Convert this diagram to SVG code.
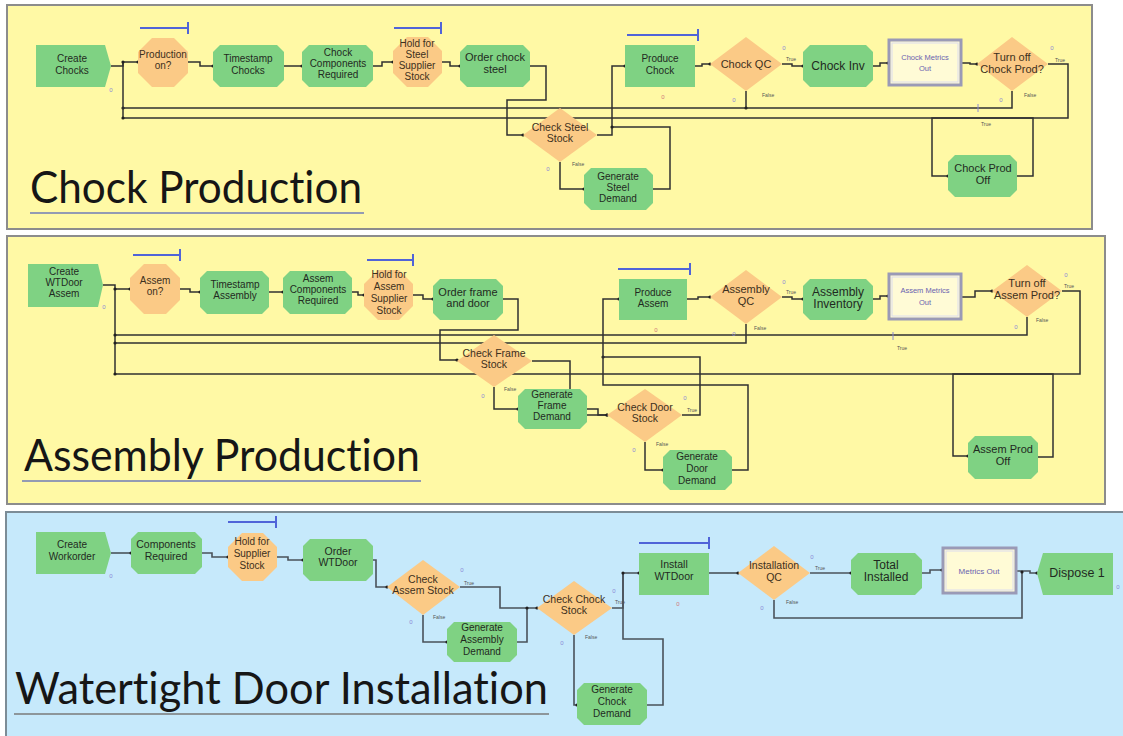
<svg xmlns="http://www.w3.org/2000/svg" width="1123" height="736" viewBox="0 0 1123 736">
  <style>
    .panelY { fill: #fff9a5; stroke: #8c8c8c; stroke-width: 2; }
    .panelB { fill: #c6e9fb; stroke: #7c8c96; stroke-width: 2; }
    .green { fill: #7fd283; }
    .orange { fill: #fbca86; }
    .record { fill: #fffbd6; stroke: #9a9ab6; stroke-width: 3; }
    .recordIn { fill: none; stroke: #dcdcee; stroke-width: 1; }
    .lbl { font-family: "Liberation Sans", Arial, sans-serif; font-size: 10px; fill: #1f2a1f; text-anchor: middle; }
    .lblO { font-family: "Liberation Sans", Arial, sans-serif; font-size: 10px; fill: #3d3020; text-anchor: middle; }
    .big { font-size: 12px; }
    .rec { font-family: "Liberation Sans", Arial, sans-serif; font-size: 7.5px; fill: #6a62b0; text-anchor: middle; }
    .title { font-family: Lato, "Liberation Sans", sans-serif; font-size: 44px; fill: #161616; font-variant-ligatures: none; font-feature-settings: "liga" 0, "dlig" 0; }
    .uline { stroke: #6f7bb8; stroke-width: 1.5; }
    .ulineG { stroke: #7a7a7a; stroke-width: 1.5; }
    .bar { stroke: #5064d8; stroke-width: 2; fill: none; }
    .conn { fill: none; stroke: #303030; stroke-width: 1.5; stroke-linejoin: miter; }
    .conn3 { fill: none; stroke: #4a525a; stroke-width: 1.6; }
    .tf { font-family: "Liberation Sans", Arial, sans-serif; font-size: 5px; fill: #555; }
    .cnt { font-family: "Liberation Sans", Arial, sans-serif; font-size: 6px; fill: #8a8ad6; text-anchor: middle; }
    .cntR { font-family: "Liberation Sans", Arial, sans-serif; font-size: 6px; fill: #d07a7a; text-anchor: middle; }
  </style>
  <defs>
    <marker id="dot" viewBox="0 0 4 4" refX="2" refY="2" markerWidth="4" markerHeight="4" markerUnits="userSpaceOnUse">
      <circle cx="2" cy="2" r="1.6" fill="#202020"/>
    </marker>
  </defs>

  <rect width="1123" height="736" fill="#ffffff"/>

  <!-- panels -->
  <g id="panel-chock">
    <rect class="panelY" x="7" y="5" width="1085" height="224"/>
    <text class="title" x="30" y="203" textLength="332" lengthAdjust="spacingAndGlyphs">Chock Production</text>
    <line class="uline" x1="30" y1="213" x2="364" y2="213"/>
  </g>
  <g id="panel-assembly">
    <rect class="panelY" x="7" y="236" width="1098" height="268"/>
    <text class="title" x="24" y="471" textLength="396" lengthAdjust="spacingAndGlyphs">Assembly Production</text>
    <line class="uline" x1="22" y1="481" x2="421" y2="481"/>
  </g>
  <g id="panel-install">
    <rect class="panelB" x="6" y="512" width="1120" height="230"/>
    <text class="title" x="15" y="704" textLength="533" lengthAdjust="spacingAndGlyphs">Watertight Door Installation</text>
    <line class="ulineG" x1="14" y1="714" x2="549" y2="714"/>
  </g>

  <!-- connectors -->
  <g id="connectors" marker-end="url(#dot)">
    <!-- chock production -->
    <path class="conn" d="M111,66 H123 V62 H138"/>
    <path class="conn" d="M188,62 H200 V66 H213"/>
    <path class="conn" d="M284,66 H302"/>
    <path class="conn" d="M373,66 H382 V62 H393"/>
    <path class="conn" d="M442,62 H450 V66 H460"/>
    <path class="conn" d="M530,66 H546 V100 H507 V135 H523"/>
    <path class="conn" d="M597,135 H612 V66 H625"/>
    <path class="conn" d="M560,162 V189 H584"/>
    <path class="conn" d="M653,189 H670 V127 H612"/>
    <path class="conn" d="M695,66 H702 V64 H710"/>
    <path class="conn" d="M782,64 H792 V66 H803"/>
    <path class="conn" d="M873,66 H880 V63 H888"/>
    <path class="conn" d="M962,63 H970 V64 H977"/>
    <path class="conn" d="M746,91 V108 H123"/>
    <path class="conn" d="M1012,91 V108 H746"/>
    <path class="conn" d="M123,118 V62"/>
    <path class="conn" d="M1048,64 H1068 V118 H932 V176 H948"/>
    <path class="conn" d="M1017,176 H1033 V118 H123"/>

    <!-- assembly production -->
    <path class="conn" d="M103,285 H115 V289 H130"/>
    <path class="conn" d="M115,374 V289"/>
    <path class="conn" d="M180,289 H190 V292 H200"/>
    <path class="conn" d="M269,292 H283"/>
    <path class="conn" d="M352,292 H358 V295 H364"/>
    <path class="conn" d="M413,295 H423 V299 H433"/>
    <path class="conn" d="M503,299 H518 V330 H440 V360 H457"/>
    <path class="conn" d="M494,387 V409 H518"/>
    <path class="conn" d="M532,361 H570 V415 H607"/>
    <path class="conn" d="M587,409 H598 V415 H607"/>
    <path class="conn" d="M682,415 H700 V357 H603"/>
    <path class="conn" d="M645,442 V470 H663"/>
    <path class="conn" d="M732,470 H748 V385 H603 V299 H619"/>
    <path class="conn" d="M687,299 H698 V297 H710"/>
    <path class="conn" d="M782,297 H792 V299 H803"/>
    <path class="conn" d="M873,299 H880 V296 H888"/>
    <path class="conn" d="M962,297 H975 V291 H992"/>
    <path class="conn" d="M746,324 V343 H115"/>
    <path class="conn" d="M1027,317 V335 H115"/>
    <path class="conn" d="M1062,291 H1080 V374 H953 V456 H968"/>
    <path class="conn" d="M1038,457 H1053 V374 H115"/>

    <!-- watertight door installation -->
    <path class="conn3" d="M111,553 H131"/>
    <path class="conn3" d="M202,553 H212 V557 H228"/>
    <path class="conn3" d="M277,557 H288 V560 H303"/>
    <path class="conn3" d="M373,560 H376 V587 H387"/>
    <path class="conn3" d="M460,587 H500 V608 H537"/>
    <path class="conn3" d="M423,615 V642 H447"/>
    <path class="conn3" d="M517,642 H527 V608"/>
    <path class="conn3" d="M612,608 H623 V573 H639"/>
    <path class="conn3" d="M574,635 V705 H577"/>
    <path class="conn3" d="M647,705 H663 V639 H623 V573"/>
    <path class="conn3" d="M709,573 H738"/>
    <path class="conn3" d="M810,573 H851"/>
    <path class="conn3" d="M922,573 H930 V570 H942"/>
    <path class="conn3" d="M1017,571 H1030 V573 H1037"/>
    <path class="conn3" d="M774,600 V618 H1022 V572"/>

    <!-- branch labels -->
    <g marker-end="none">
      <text class="tf" x="786" y="61">True</text>
      <text class="tf" x="762" y="97">False</text>
      <text class="tf" x="1055" y="62">True</text>
      <text class="tf" x="1024" y="97">False</text>
      <text class="tf" x="981" y="126">True</text>
      <text class="tf" x="572" y="166">False</text>
      <text class="tf" x="786" y="294">True</text>
      <text class="tf" x="754" y="330">False</text>
      <text class="tf" x="1064" y="288">True</text>
      <text class="tf" x="1036" y="322">False</text>
      <text class="tf" x="897" y="350">True</text>
      <text class="tf" x="504" y="391">False</text>
      <text class="tf" x="687" y="412">True</text>
      <text class="tf" x="656" y="446">False</text>
      <text class="tf" x="464" y="585">True</text>
      <text class="tf" x="433" y="619">False</text>
      <text class="tf" x="615" y="604">True</text>
      <text class="tf" x="585" y="639">False</text>
      <text class="tf" x="815" y="570">True</text>
      <text class="tf" x="786" y="604">False</text>
    </g>
  </g>

  <!-- ===== Chock Production nodes ===== -->
  <g id="create-chocks">
    <polygon class="green" points="36,45 105,45 111,66 105,87 36,87"/>
    <text class="lbl" x="72" y="62">Create</text>
    <text class="lbl" x="72" y="74">Chocks</text>
    <text class="cnt" x="111" y="92">0</text>
  </g>
  <g id="production-on">
    <polyline class="bar" points="140,28 188,28"/>
    <line class="bar" x1="188" y1="22" x2="188" y2="34"/>
    <polygon class="orange" points="152,38 174,38 188,52 188,73 174,87 152,87 138,73 138,52"/>
    <text class="lblO" x="163" y="58">Production</text>
    <text class="lblO" x="163" y="69">on?</text>
  </g>
  <g id="timestamp-chocks">
    <polygon class="green" points="220,45 277,45 284,52 284,80 277,87 220,87 213,80 213,52"/>
    <text class="lbl" x="248" y="62">Timestamp</text>
    <text class="lbl" x="248" y="74">Chocks</text>
  </g>
  <g id="chock-components">
    <polygon class="green" points="309,45 366,45 373,52 373,80 366,87 309,87 302,80 302,52"/>
    <text class="lbl" x="338" y="56">Chock</text>
    <text class="lbl" x="338" y="67">Components</text>
    <text class="lbl" x="338" y="78">Required</text>
  </g>
  <g id="hold-steel">
    <polyline class="bar" points="394,28 441,28"/>
    <line class="bar" x1="441" y1="22" x2="441" y2="34"/>
    <polygon class="orange" points="407,37 428,37 442,51 442,73 428,87 407,87 393,73 393,51"/>
    <text class="lblO" x="417" y="47">Hold for</text>
    <text class="lblO" x="417" y="58">Steel</text>
    <text class="lblO" x="417" y="69">Supplier</text>
    <text class="lblO" x="417" y="80">Stock</text>
  </g>
  <g id="order-chock-steel">
    <polygon class="green" points="467,45 523,45 530,52 530,80 523,87 467,87 460,80 460,52"/>
    <text class="lbl" x="495" y="61" style="font-size:11px">Order chock</text>
    <text class="lbl" x="495" y="73" style="font-size:11px">steel</text>
  </g>
  <g id="produce-chock">
    <polyline class="bar" points="627,35 698,35"/>
    <line class="bar" x1="698" y1="29" x2="698" y2="41"/>
    <rect class="green" x="625" y="45" width="70" height="42"/>
    <text class="lbl" x="660" y="62">Produce</text>
    <text class="lbl" x="660" y="74">Chock</text>
    <text class="cntR" x="663" y="99">0</text>
  </g>
  <g id="chock-qc">
    <polygon class="orange" points="710,64 746,37 782,64 746,91"/>
    <text class="lblO" x="746" y="68" style="font-size:11px">Chock QC</text>
    <text class="cnt" x="784" y="50">0</text>
    <text class="cnt" x="734" y="102">0</text>
  </g>
  <g id="chock-inv">
    <polygon class="green" points="810,45 866,45 873,52 873,80 866,87 810,87 803,80 803,52"/>
    <text class="lbl big" x="838" y="70">Chock Inv</text>
  </g>
  <g id="chock-metrics-out">
    <rect class="record" x="889" y="40" width="72" height="45"/>
    <rect class="recordIn" x="892" y="43" width="66" height="39"/>
    <text class="rec" x="925" y="60">Chock Metrics</text>
    <text class="rec" x="925" y="71">Out</text>
  </g>
  <g id="turn-off-chock">
    <polygon class="orange" points="977,64 1012,37 1048,64 1012,91"/>
    <text class="lblO" x="1012" y="61" style="font-size:11px">Turn off</text>
    <text class="lblO" x="1012" y="73" style="font-size:11px">Chock Prod?</text>
    <text class="cnt" x="1052" y="50">0</text>
    <text class="cnt" x="1001" y="102">0</text>
    <line x1="978" y1="104" x2="978" y2="112" stroke="#8a8ad6" stroke-width="1"/>
  </g>
  <g id="check-steel-stock">
    <polygon class="orange" points="523,135 560,108 597,135 560,162"/>
    <text class="lblO" x="560" y="131" style="font-size:10.5px">Check Steel</text>
    <text class="lblO" x="560" y="142" style="font-size:10.5px">Stock</text>
    <text class="cnt" x="548" y="171">0</text>
  </g>
  <g id="generate-steel-demand">
    <polygon class="green" points="591,168 646,168 653,175 653,203 646,210 591,210 584,203 584,175"/>
    <text class="lbl" x="618" y="180">Generate</text>
    <text class="lbl" x="618" y="191">Steel</text>
    <text class="lbl" x="618" y="202">Demand</text>
  </g>
  <g id="chock-prod-off">
    <polygon class="green" points="955,155 1010,155 1017,162 1017,190 1010,197 955,197 948,190 948,162"/>
    <text class="lbl" x="983" y="172" style="font-size:11px">Chock Prod</text>
    <text class="lbl" x="983" y="184" style="font-size:11px">Off</text>
  </g>

  <!-- ===== Assembly Production nodes ===== -->
  <g id="create-wtdoor-assem">
    <polygon class="green" points="28,264 98,264 103,285 98,307 28,307"/>
    <text class="lbl" x="64" y="275">Create</text>
    <text class="lbl" x="64" y="286">WTDoor</text>
    <text class="lbl" x="64" y="297">Assem</text>
    <text class="cnt" x="104" y="309">0</text>
  </g>
  <g id="assem-on">
    <polyline class="bar" points="133,255 180,255"/>
    <line class="bar" x1="180" y1="249" x2="180" y2="261"/>
    <polygon class="orange" points="144,264 166,264 180,278 180,300 166,314 144,314 130,300 130,278"/>
    <text class="lblO" x="155" y="284">Assem</text>
    <text class="lblO" x="155" y="295">on?</text>
  </g>
  <g id="timestamp-assembly">
    <polygon class="green" points="207,271 262,271 269,278 269,307 262,314 207,314 200,307 200,278"/>
    <text class="lbl" x="235" y="288">Timestamp</text>
    <text class="lbl" x="235" y="299">Assembly</text>
  </g>
  <g id="assem-components">
    <polygon class="green" points="290,271 345,271 352,278 352,307 345,314 290,314 283,307 283,278"/>
    <text class="lbl" x="318" y="282">Assem</text>
    <text class="lbl" x="318" y="293">Components</text>
    <text class="lbl" x="318" y="304">Required</text>
  </g>
  <g id="hold-assem">
    <polyline class="bar" points="367,260 413,260"/>
    <line class="bar" x1="413" y1="254" x2="413" y2="266"/>
    <polygon class="orange" points="378,270 399,270 413,284 413,306 399,320 378,320 364,306 364,284"/>
    <text class="lblO" x="389" y="278">Hold for</text>
    <text class="lblO" x="389" y="290">Assem</text>
    <text class="lblO" x="389" y="302">Supplier</text>
    <text class="lblO" x="389" y="314">Stock</text>
  </g>
  <g id="order-frame-door">
    <polygon class="green" points="440,279 496,279 503,286 503,313 496,320 440,320 433,313 433,286"/>
    <text class="lbl" x="468" y="296" style="font-size:11px">Order frame</text>
    <text class="lbl" x="468" y="307" style="font-size:11px">and door</text>
  </g>
  <g id="produce-assem">
    <polyline class="bar" points="618,269 690,269"/>
    <line class="bar" x1="690" y1="263" x2="690" y2="275"/>
    <rect class="green" x="619" y="279" width="68" height="41"/>
    <text class="lbl" x="653" y="296">Produce</text>
    <text class="lbl" x="653" y="307">Assem</text>
    <text class="cntR" x="656" y="332">0</text>
  </g>
  <g id="assembly-qc">
    <polygon class="orange" points="710,297 746,270 782,297 746,324"/>
    <text class="lblO" x="746" y="293" style="font-size:11px">Assembly</text>
    <text class="lblO" x="746" y="305" style="font-size:11px">QC</text>
    <text class="cnt" x="784" y="284">0</text>
    <text class="cnt" x="734" y="336">0</text>
  </g>
  <g id="assembly-inventory">
    <polygon class="green" points="810,279 866,279 873,286 873,313 866,320 810,320 803,313 803,286"/>
    <text class="lbl big" x="838" y="296">Assembly</text>
    <text class="lbl big" x="838" y="308">Inventory</text>
  </g>
  <g id="assem-metrics-out">
    <rect class="record" x="889" y="274" width="72" height="45"/>
    <rect class="recordIn" x="892" y="277" width="66" height="39"/>
    <text class="rec" x="925" y="293">Assem Metrics</text>
    <text class="rec" x="925" y="305">Out</text>
  </g>
  <g id="turn-off-assem">
    <polygon class="orange" points="992,291 1027,265 1062,291 1027,317"/>
    <text class="lblO" x="1027" y="287" style="font-size:11px">Turn off</text>
    <text class="lblO" x="1027" y="299" style="font-size:11px">Assem Prod?</text>
    <text class="cnt" x="1066" y="277">0</text>
    <text class="cnt" x="1016" y="329">0</text>
    <line x1="893" y1="332" x2="893" y2="340" stroke="#8a8ad6" stroke-width="1"/>
  </g>
  <g id="assem-prod-off">
    <polygon class="green" points="975,436 1031,436 1038,443 1038,472 1031,479 975,479 968,472 968,443"/>
    <text class="lbl" x="1003" y="453" style="font-size:11px">Assem Prod</text>
    <text class="lbl" x="1003" y="465" style="font-size:11px">Off</text>
  </g>
  <g id="check-frame-stock">
    <polygon class="orange" points="457,361 494,335 532,361 494,387"/>
    <text class="lblO" x="494" y="357" style="font-size:10.5px">Check Frame</text>
    <text class="lblO" x="494" y="368" style="font-size:10.5px">Stock</text>
    <text class="cnt" x="483" y="398">0</text>
  </g>
  <g id="generate-frame-demand">
    <polygon class="green" points="525,389 580,389 587,396 587,422 580,429 525,429 518,422 518,396"/>
    <text class="lbl" x="552" y="398">Generate</text>
    <text class="lbl" x="552" y="409">Frame</text>
    <text class="lbl" x="552" y="420">Demand</text>
  </g>
  <g id="check-door-stock">
    <polygon class="orange" points="607,415 645,389 682,415 645,442"/>
    <text class="lblO" x="645" y="411" style="font-size:10.5px">Check Door</text>
    <text class="lblO" x="645" y="422" style="font-size:10.5px">Stock</text>
    <text class="cnt" x="685" y="400">0</text>
    <text class="cnt" x="634" y="452">0</text>
  </g>
  <g id="generate-door-demand">
    <polygon class="green" points="670,450 725,450 732,457 732,483 725,490 670,490 663,483 663,457"/>
    <text class="lbl" x="697" y="460">Generate</text>
    <text class="lbl" x="697" y="472">Door</text>
    <text class="lbl" x="697" y="484">Demand</text>
  </g>

  <!-- ===== Watertight Door Installation nodes ===== -->
  <g id="create-workorder">
    <polygon class="green" points="36,532 105,532 111,553 105,574 36,574"/>
    <text class="lbl" x="72" y="548">Create</text>
    <text class="lbl" x="72" y="560">Workorder</text>
    <text class="cnt" x="111" y="578">0</text>
  </g>
  <g id="components-required">
    <polygon class="green" points="138,532 195,532 202,539 202,567 195,574 138,574 131,567 131,539"/>
    <text class="lbl" x="166" y="548" style="font-size:10.5px">Components</text>
    <text class="lbl" x="166" y="560" style="font-size:10.5px">Required</text>
  </g>
  <g id="hold-supplier">
    <polyline class="bar" points="228,522 276,522"/>
    <line class="bar" x1="276" y1="516" x2="276" y2="528"/>
    <polygon class="orange" points="242,533 263,533 277,547 277,567 263,581 242,581 228,567 228,547"/>
    <text class="lblO" x="252" y="545">Hold for</text>
    <text class="lblO" x="252" y="557">Supplier</text>
    <text class="lblO" x="252" y="569">Stock</text>
  </g>
  <g id="order-wtdoor">
    <polygon class="green" points="310,539 366,539 373,546 373,574 366,581 310,581 303,574 303,546"/>
    <text class="lbl" x="338" y="555" style="font-size:10.5px">Order</text>
    <text class="lbl" x="338" y="566" style="font-size:10.5px">WTDoor</text>
  </g>
  <g id="check-assem-stock">
    <polygon class="orange" points="387,587 423,560 460,587 423,615"/>
    <text class="lblO" x="423" y="583" style="font-size:10.5px">Check</text>
    <text class="lblO" x="423" y="594" style="font-size:10.5px">Assem Stock</text>
    <text class="cnt" x="462" y="572">0</text>
    <text class="cnt" x="411" y="624">0</text>
  </g>
  <g id="generate-assembly-demand">
    <polygon class="green" points="454,622 510,622 517,629 517,655 510,662 454,662 447,655 447,629"/>
    <text class="lbl" x="482" y="631">Generate</text>
    <text class="lbl" x="482" y="643">Assembly</text>
    <text class="lbl" x="482" y="655">Demand</text>
  </g>
  <g id="check-chock-stock">
    <polygon class="orange" points="537,608 574,581 612,608 574,635"/>
    <text class="lblO" x="574" y="603" style="font-size:10.5px">Check Chock</text>
    <text class="lblO" x="574" y="614" style="font-size:10.5px">Stock</text>
    <text class="cnt" x="614" y="593">0</text>
    <text class="cnt" x="562" y="645">0</text>
  </g>
  <g id="generate-chock-demand">
    <polygon class="green" points="584,683 640,683 647,690 647,718 640,725 584,725 577,718 577,690"/>
    <text class="lbl" x="612" y="693">Generate</text>
    <text class="lbl" x="612" y="705">Chock</text>
    <text class="lbl" x="612" y="717">Demand</text>
  </g>
  <g id="install-wtdoor">
    <polyline class="bar" points="639,543 709,543"/>
    <line class="bar" x1="709" y1="537" x2="709" y2="549"/>
    <rect class="green" x="639" y="553" width="70" height="42"/>
    <text class="lbl" x="674" y="568" style="font-size:10.5px">Install</text>
    <text class="lbl" x="674" y="580" style="font-size:10.5px">WTDoor</text>
    <text class="cntR" x="678" y="606">0</text>
  </g>
  <g id="installation-qc">
    <polygon class="orange" points="738,573 774,546 810,573 774,600"/>
    <text class="lblO" x="774" y="569" style="font-size:10.5px">Installation</text>
    <text class="lblO" x="774" y="581" style="font-size:10.5px">QC</text>
    <text class="cnt" x="812" y="559">0</text>
    <text class="cnt" x="762" y="610">0</text>
  </g>
  <g id="total-installed">
    <polygon class="green" points="858,553 915,553 922,560 922,588 915,595 858,595 851,588 851,560"/>
    <text class="lbl big" x="886" y="569">Total</text>
    <text class="lbl big" x="886" y="581">Installed</text>
  </g>
  <g id="metrics-out">
    <rect class="record" x="943" y="548" width="73" height="45"/>
    <rect class="recordIn" x="946" y="551" width="67" height="39"/>
    <text class="rec" x="979" y="574" style="font-size:8px">Metrics Out</text>
  </g>
  <g id="dispose-1">
    <polygon class="green" points="1043,553 1113,553 1113,595 1043,595 1037,573"/>
    <text class="lbl" x="1077" y="577" style="font-size:12.5px">Dispose 1</text>
    <text class="cnt" x="1118" y="589">0</text>
  </g>
</svg>
